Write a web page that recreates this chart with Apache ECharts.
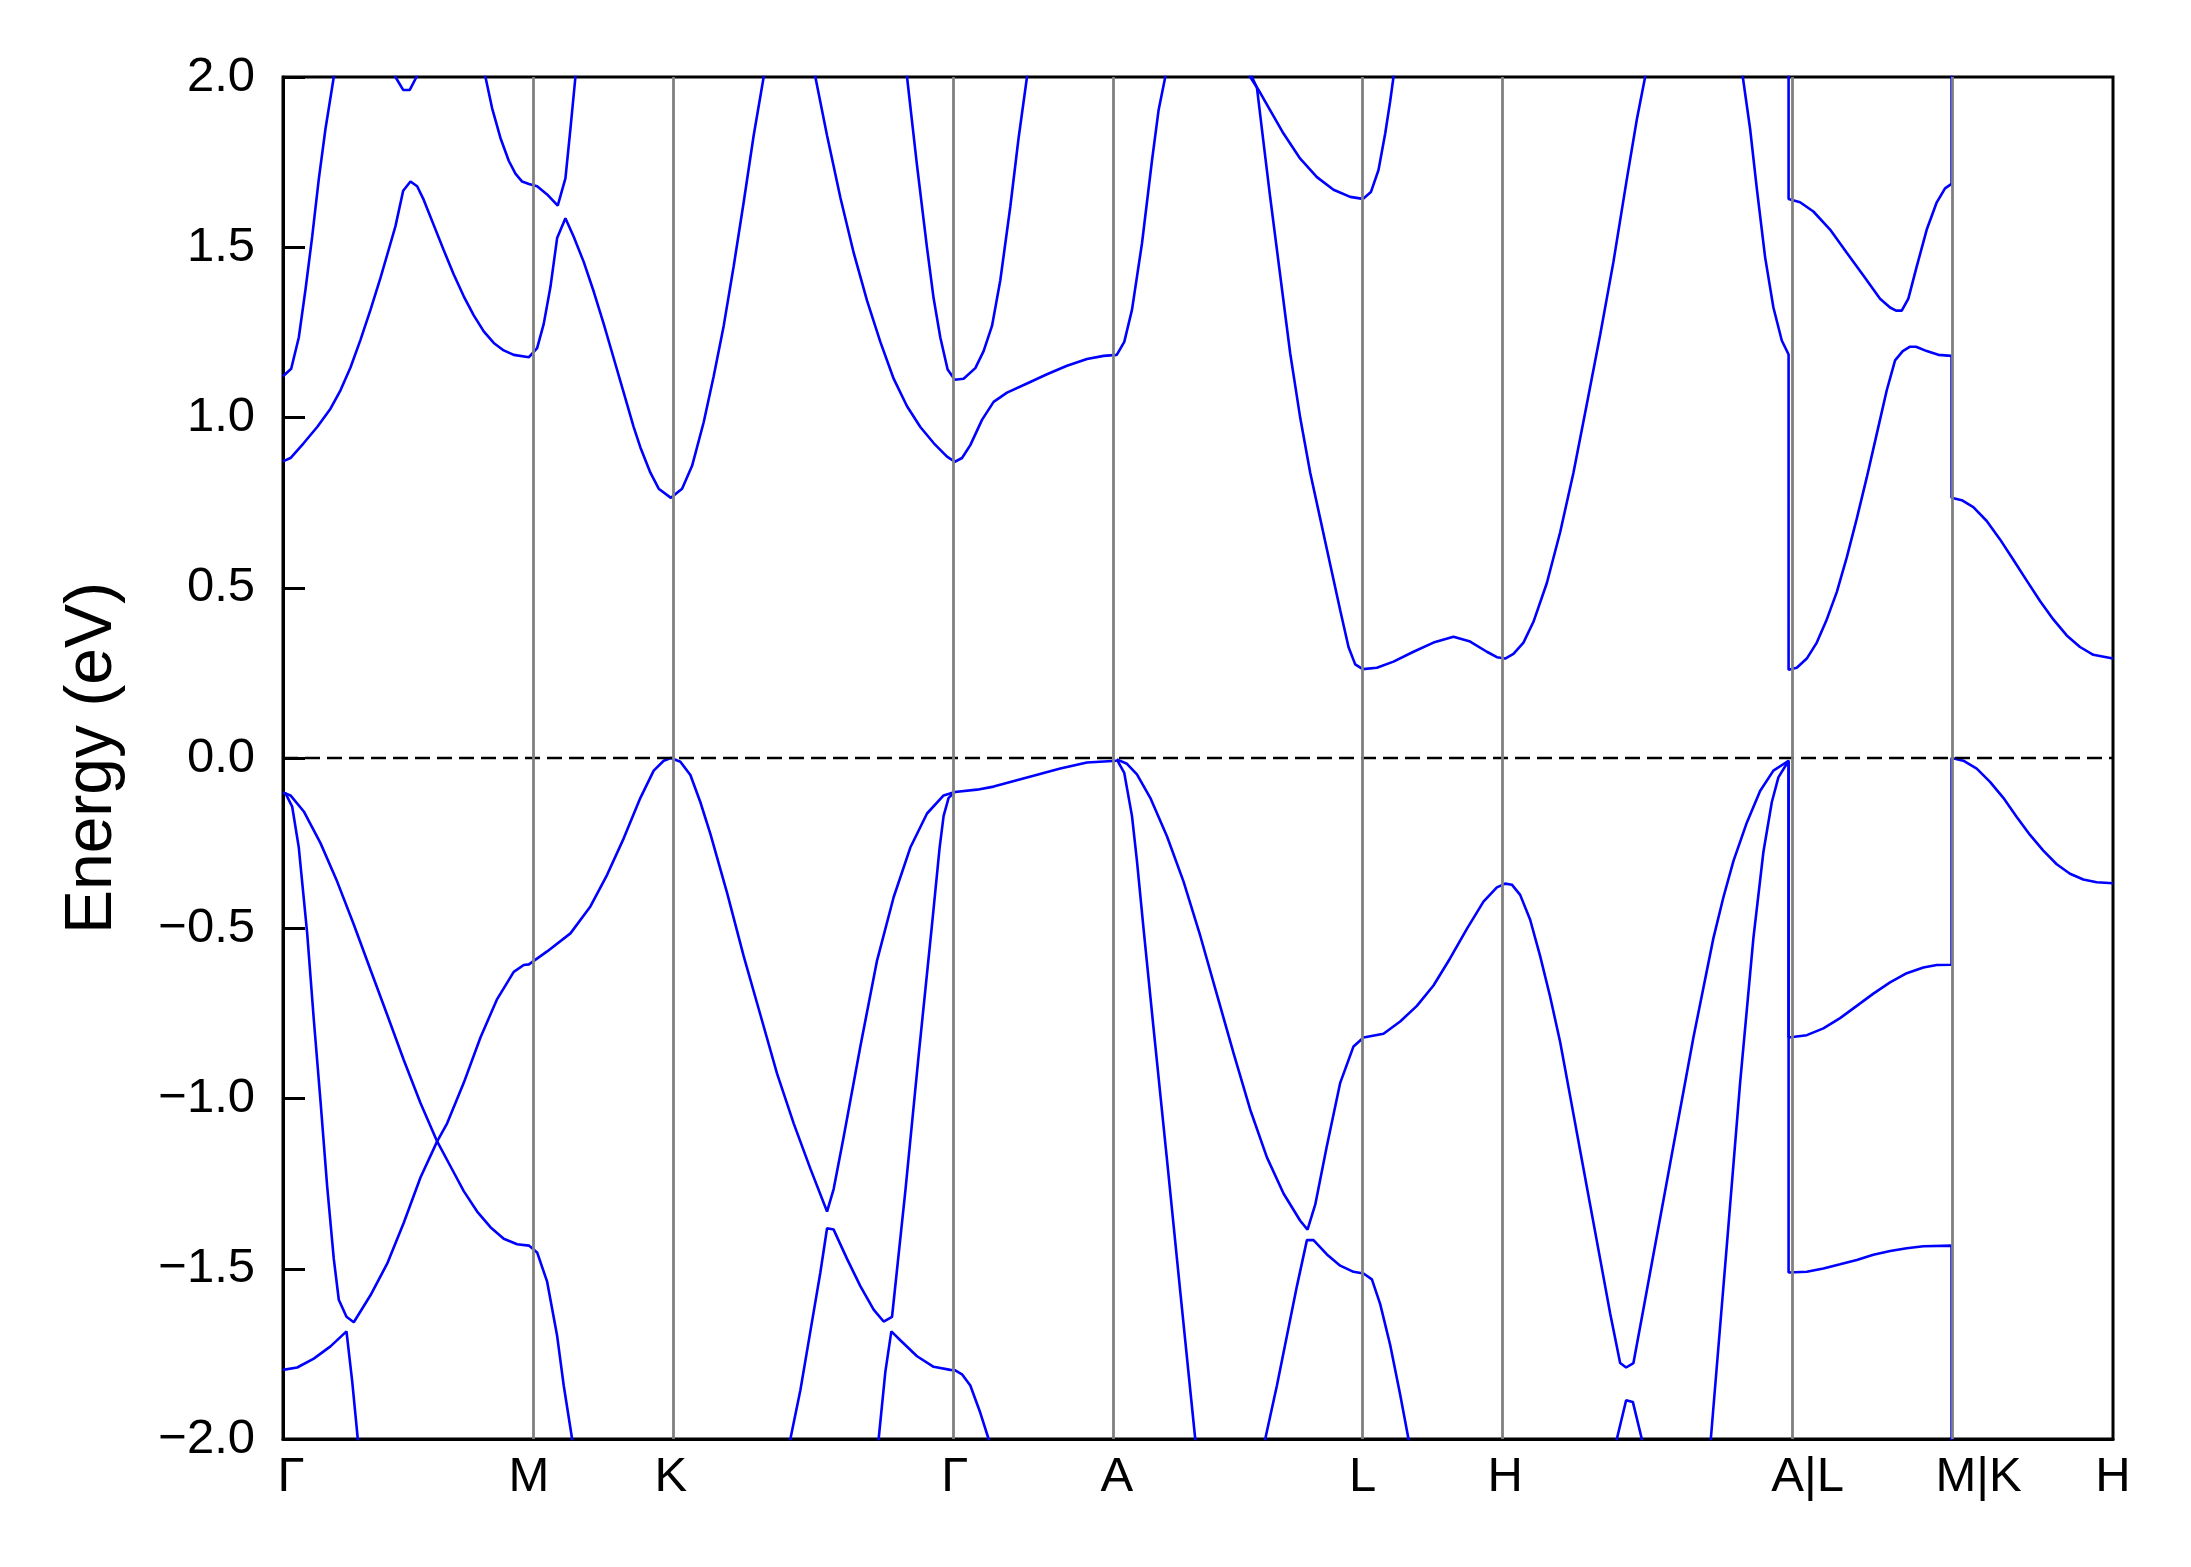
<!DOCTYPE html>
<html>
<head>
<meta charset="utf-8">
<script src="https://cdn.jsdelivr.net/npm/echarts@6/dist/echarts.min.js"></script>
<style>html,body{margin:0;padding:0;background:#fff;}#c{width:2191px;height:1567px;}</style>
</head>
<body>
<div id="c"></div>
<script>
// High-symmetry points along the k-path (path distance, arb. units)
const kTicks = [0, 0.246, 0.388, 0.672, 0.834, 1.080, 1.2225, 1.506, 1.669, 1.8305];
const kLabels = ['Γ', 'M', 'K', 'Γ', 'A', 'L', 'H', 'A|L', 'M|K', 'H'];
const yTicks = [-2, -1.5, -1, -0.5, 0, 0.5, 1, 1.5, 2];
const fermiLevel = [[0, 0], [1.8305, 0]];

// Bands: [k, E (eV)]
const c_gm1 = [[0,1.121],[0.0082,1.143],[0.0158,1.235],[0.0225,1.376],[0.0292,1.531],[0.0358,1.700],[0.0425,1.848],[0.0508,2.0],[0.054,2.08]];
const c_gmk = [[0,0.871],[0.0075,0.881],[0.0208,0.925],[0.0342,0.972],[0.0475,1.026],[0.0575,1.080],[0.0675,1.147],[0.0775,1.228],[0.0875,1.316],[0.0975,1.410],[0.1075,1.511],[0.1125,1.562],[0.1202,1.666],[0.1275,1.693],[0.1342,1.679],[0.1408,1.639],[0.1508,1.565],[0.1608,1.491],[0.1708,1.420],[0.1808,1.356],[0.1908,1.300],[0.2008,1.253],[0.2108,1.219],[0.2208,1.197],[0.2308,1.184],[0.246,1.177],[0.2542,1.204],[0.2608,1.275],[0.2675,1.383],[0.2742,1.527],[0.2825,1.585],[0.2908,1.531],[0.3008,1.457],[0.3108,1.370],[0.3208,1.275],[0.3308,1.174],[0.3408,1.073],[0.3508,0.972],[0.3575,0.912],[0.3675,0.838],[0.3758,0.791],[0.388,0.764],[0.3992,0.791],[0.4092,0.858],[0.4208,0.986],[0.4308,1.121],[0.4408,1.269],[0.4508,1.444],[0.4608,1.632],[0.4708,1.828],[0.4808,2.0],[0.484,2.07]];
const c_dip = [[0.108,2.06],[0.1125,2.0],[0.1202,1.962],[0.1268,1.962],[0.1335,2.0],[0.138,2.06]];
const c_m = [[0.199,2.07],[0.2025,2.0],[0.2092,1.908],[0.2175,1.821],[0.2258,1.754],[0.2325,1.716],[0.2392,1.693],[0.246,1.686],[0.2542,1.679],[0.2642,1.655],[0.2748,1.622],[0.2825,1.702],[0.2875,1.848],[0.2925,2.0],[0.294,2.05]];
const c_kga = [[0.529,2.07],[0.5325,2.0],[0.5442,1.828],[0.5575,1.646],[0.5708,1.484],[0.5842,1.343],[0.5975,1.222],[0.6108,1.114],[0.6242,1.033],[0.6375,0.972],[0.6508,0.925],[0.6642,0.885],[0.672,0.870],[0.6792,0.881],[0.6875,0.919],[0.6992,0.993],[0.7108,1.046],[0.7242,1.073],[0.7442,1.100],[0.7642,1.127],[0.7842,1.152],[0.8042,1.172],[0.8208,1.181],[0.834,1.184],[0.8415,1.222],[0.8492,1.316],[0.8592,1.511],[0.8692,1.754],[0.8758,1.902],[0.8825,2.0],[0.885,2.05]];
const c_g2 = [[0.622,2.05],[0.6242,2.0],[0.6342,1.740],[0.6442,1.498],[0.6508,1.350],[0.6575,1.235],[0.6648,1.141],[0.672,1.111],[0.6808,1.114],[0.6925,1.145],[0.7008,1.195],[0.7092,1.269],[0.7175,1.403],[0.7275,1.619],[0.7358,1.821],[0.7442,2.0],[0.746,2.05]];
const c_lh = [[0.967,2.05],[0.9692,2.0],[0.9742,1.969],[0.9808,1.807],[0.9875,1.646],[0.9975,1.417],[1.0075,1.188],[1.0175,0.999],[1.0275,0.838],[1.0375,0.703],[1.0475,0.568],[1.0575,0.434],[1.0658,0.326],[1.0725,0.275],[1.080,0.261],[1.0942,0.265],[1.1108,0.283],[1.1308,0.312],[1.1508,0.339],[1.1708,0.356],[1.1875,0.342],[1.2042,0.312],[1.2142,0.296],[1.2225,0.292],[1.2308,0.306],[1.2408,0.339],[1.2508,0.400],[1.2642,0.514],[1.2775,0.663],[1.2908,0.838],[1.3042,1.040],[1.3175,1.242],[1.3308,1.457],[1.3442,1.700],[1.3542,1.875],[1.3625,2.0],[1.365,2.05]];
const c_lup = [[0.965,2.02],[0.9675,2.0],[0.9758,1.962],[0.9875,1.902],[1.0008,1.834],[1.0175,1.760],[1.0342,1.706],[1.0508,1.669],[1.0675,1.648],[1.0802,1.642],[1.0882,1.662],[1.0958,1.727],[1.1025,1.834],[1.1075,1.929],[1.1108,2.0],[1.112,2.05]];
const c_alk = [[1.458,2.05],[1.4602,2.0],[1.4675,1.848],[1.4742,1.673],[1.4825,1.471],[1.4908,1.323],[1.4992,1.226],[1.506,1.185],[1.506,0.259],[1.5142,0.265],[1.5242,0.292],[1.5342,0.339],[1.5442,0.407],[1.5542,0.487],[1.5642,0.589],[1.5742,0.703],[1.5842,0.824],[1.5942,0.952],[1.6042,1.080],[1.6125,1.168],[1.6202,1.195],[1.6275,1.208],[1.6335,1.208],[1.6442,1.195],[1.6558,1.184],[1.669,1.181],[1.669,0.764],[1.6792,0.757],[1.6908,0.737],[1.7042,0.696],[1.7175,0.642],[1.7308,0.582],[1.7442,0.521],[1.7575,0.461],[1.7708,0.407],[1.7842,0.360],[1.7975,0.326],[1.8108,0.303],[1.8305,0.292]];
const c_lmk = [[1.506,2.3],[1.506,1.642],[1.5175,1.632],[1.5308,1.605],[1.5475,1.552],[1.5642,1.484],[1.5808,1.417],[1.5975,1.349],[1.6075,1.323],[1.6135,1.314],[1.6192,1.314],[1.6258,1.349],[1.6342,1.444],[1.6442,1.552],[1.6542,1.632],[1.6625,1.673],[1.669,1.686],[1.669,2.3]];

const v_top = [[0,-0.101],[0.0025,-0.104],[0.0092,-0.143],[0.0158,-0.263],[0.0242,-0.515],[0.0308,-0.768],[0.0375,-1.007],[0.0442,-1.259],[0.0508,-1.471],[0.0558,-1.591],[0.0635,-1.641],[0.0708,-1.657],[0.0875,-1.578],[0.1042,-1.485],[0.1208,-1.365],[0.1375,-1.232],[0.1542,-1.126],[0.1642,-1.073],[0.1808,-0.954],[0.1975,-0.821],[0.2142,-0.708],[0.2308,-0.628],[0.2408,-0.608],[0.246,-0.606],[0.2642,-0.568],[0.2875,-0.515],[0.3075,-0.436],[0.3242,-0.343],[0.3408,-0.236],[0.3575,-0.117],[0.3708,-0.037],[0.3808,-0.008],[0.388,0],[0.3975,-0.011],[0.4075,-0.050],[0.4175,-0.130],[0.4275,-0.223],[0.4442,-0.396],[0.4608,-0.582],[0.4775,-0.754],[0.4942,-0.927],[0.5108,-1.073],[0.5275,-1.206],[0.5442,-1.332],[0.5508,-1.266],[0.5608,-1.113],[0.5775,-0.847],[0.5942,-0.595],[0.6108,-0.409],[0.6275,-0.263],[0.6442,-0.163],[0.6608,-0.110],[0.672,-0.100],[0.6942,-0.093],[0.7108,-0.084],[0.7442,-0.057],[0.7775,-0.031],[0.8042,-0.013],[0.834,-0.008]];
const v_gm = [[0,-0.101],[0.0075,-0.110],[0.0208,-0.157],[0.0375,-0.250],[0.0542,-0.363],[0.0708,-0.489],[0.0875,-0.622],[0.1042,-0.754],[0.1208,-0.887],[0.1375,-1.013],[0.1542,-1.126],[0.1675,-1.199],[0.1808,-1.272],[0.1942,-1.332],[0.2075,-1.378],[0.2208,-1.412],[0.2342,-1.428],[0.246,-1.432],[0.2542,-1.452],[0.2642,-1.538],[0.2742,-1.697],[0.2808,-1.843],[0.2892,-2.0],[0.291,-2.05]];
const v_g18 = [[0,-1.797],[0.0142,-1.790],[0.0308,-1.764],[0.0475,-1.728],[0.0635,-1.684],[0.0692,-1.830],[0.0748,-2.0],[0.076,-2.05]];
const v_kg1 = [[0.5065,-2.03],[0.5075,-2.0],[0.5175,-1.857],[0.5275,-1.684],[0.5375,-1.511],[0.5442,-1.381],[0.5508,-1.385],[0.5642,-1.471],[0.5775,-1.551],[0.5908,-1.620],[0.6008,-1.655],[0.6092,-1.641],[0.6225,-1.272],[0.6358,-0.874],[0.6492,-0.489],[0.6568,-0.263],[0.6608,-0.170],[0.6658,-0.117],[0.672,-0.100]];
const v_kg2 = [[0.5955,-2.03],[0.5958,-2.0],[0.6025,-1.803],[0.6085,-1.684],[0.6175,-1.710],[0.6342,-1.757],[0.6508,-1.788],[0.6675,-1.797],[0.672,-1.798],[0.6792,-1.810],[0.6875,-1.843],[0.6975,-1.923],[0.7058,-2.0],[0.707,-2.03]];
const v_a1 = [[0.834,-0.004],[0.8415,-0.044],[0.8492,-0.170],[0.8542,-0.303],[0.8608,-0.502],[0.8708,-0.794],[0.8842,-1.179],[0.8975,-1.567],[0.9125,-2.0],[0.913,-2.02]];
const v_a2 = [[0.834,-0.004],[0.8442,-0.017],[0.8542,-0.048],[0.8675,-0.117],[0.8842,-0.230],[0.9008,-0.363],[0.9175,-0.522],[0.9342,-0.695],[0.9508,-0.867],[0.9675,-1.033],[0.9842,-1.173],[1.0008,-1.279],[1.0175,-1.359],[1.0248,-1.385],[1.0325,-1.312],[1.0442,-1.139],[1.0575,-0.954],[1.0708,-0.847],[1.0808,-0.821],[1.1008,-0.810],[1.1175,-0.774],[1.1342,-0.728],[1.1508,-0.668],[1.1675,-0.588],[1.1842,-0.502],[1.2008,-0.422],[1.2142,-0.380],[1.2225,-0.369],[1.2292,-0.372],[1.2375,-0.402],[1.2475,-0.475],[1.2575,-0.582],[1.2675,-0.701],[1.2775,-0.834],[1.2875,-0.993],[1.2975,-1.153],[1.3075,-1.312],[1.3175,-1.471],[1.3275,-1.631],[1.3375,-1.777],[1.3435,-1.790],[1.3508,-1.777],[1.3608,-1.618],[1.3708,-1.458],[1.3808,-1.299],[1.3908,-1.139],[1.4008,-0.980],[1.4108,-0.821],[1.4208,-0.675],[1.4308,-0.529],[1.4408,-0.409],[1.4508,-0.303],[1.4642,-0.190],[1.4775,-0.097],[1.4908,-0.037],[1.506,-0.008],[1.506,-0.821],[1.5242,-0.814],[1.5408,-0.794],[1.5575,-0.764],[1.5742,-0.728],[1.5908,-0.692],[1.6075,-0.659],[1.6242,-0.632],[1.6408,-0.615],[1.6542,-0.608],[1.669,-0.607],[1.669,0],[1.6808,-0.008],[1.6942,-0.031],[1.7075,-0.070],[1.7208,-0.117],[1.7342,-0.173],[1.7475,-0.226],[1.7608,-0.272],[1.7742,-0.312],[1.7875,-0.340],[1.8008,-0.357],[1.8142,-0.365],[1.8305,-0.368]];
const v_l15 = [[0.9822,-2.03],[0.9825,-2.0],[0.9942,-1.843],[1.0042,-1.697],[1.0142,-1.551],[1.0242,-1.416],[1.0308,-1.416],[1.0442,-1.458],[1.0575,-1.491],[1.0708,-1.509],[1.0808,-1.514],[1.0892,-1.531],[1.0975,-1.604],[1.1075,-1.724],[1.1175,-1.870],[1.1258,-2.0],[1.127,-2.03]];
const v_hpk = [[1.3335,-2.02],[1.3342,-2.0],[1.3435,-1.886],[1.3502,-1.891],[1.3592,-2.0],[1.36,-2.02]];
const v_ha = [[1.428,-2.02],[1.4282,-2.0],[1.4442,-1.432],[1.4575,-0.954],[1.4708,-0.529],[1.4808,-0.276],[1.4892,-0.130],[1.4958,-0.057],[1.506,-0.008],[1.506,-1.511],[1.5242,-1.509],[1.5408,-1.499],[1.5575,-1.487],[1.5742,-1.474],[1.5908,-1.459],[1.6075,-1.448],[1.6242,-1.440],[1.6408,-1.434],[1.669,-1.432],[1.669,-2.3]];

const bands = [c_gm1, c_gmk, c_dip, c_m, c_kga, c_g2, c_lh, c_lup, c_alk, c_lmk,
               v_top, v_gm, v_g18, v_kg1, v_kg2, v_a1, v_a2, v_l15, v_hpk, v_ha];

const FONT = "'Liberation Sans', Arial, Helvetica, sans-serif";
const chart = echarts.init(document.getElementById('c'), null, {renderer: 'canvas'});

function fmtY(v) {
  const s = Math.abs(v).toFixed(1);
  return (v < -1e-9 ? '\u2212' : '') + s;
}
function labelFor(v) {
  let best = 0;
  for (let i = 0; i < kTicks.length; i++) {
    if (Math.abs(kTicks[i] - v) < Math.abs(kTicks[best] - v)) best = i;
  }
  const t = kLabels[best];
  if (best === 0) return '{g0|' + t + '}';
  if (t === 'A|L') return '{al|' + t + '}';
  if (t === 'M|K') return '{mk|' + t + '}';
  return '{n|' + t + '}';
}
const tx = {fontSize: 49, fontFamily: FONT, color: '#000'};

const series = [];
series.push({
  type: 'line', data: [], z: 1, silent: true, animation: false,
  markLine: {
    symbol: ['none', 'none'], silent: true, animation: false, label: {show: false},
    lineStyle: {color: '#808080', width: 2.8, type: 'solid'},
    data: kTicks.slice(1, -1).map(v => ({xAxis: v}))
  }
});
bands.forEach(d => series.push({
  type: 'line', data: d, showSymbol: false, symbol: 'none', smooth: false,
  lineStyle: {color: '#0000ff', width: 2.6}, z: 3, silent: true, animation: false, clip: true
}));
series.push({
  type: 'line', data: fermiLevel, showSymbol: false, symbol: 'none', z: 4, silent: true, animation: false,
  lineStyle: {color: '#000000', width: 2.6, type: [15, 7]}
});

chart.setOption({
  backgroundColor: '#ffffff',
  animation: false,
  grid: {left: 283, right: 78, top: 77, bottom: 128, show: true, borderColor: '#000', borderWidth: 3, containLabel: false},
  xAxis: {
    type: 'value', min: 0, max: kTicks[kTicks.length - 1],
    axisLine: {show: true, onZero: false, lineStyle: {color: '#000', width: 3}},
    axisTick: {show: false},
    splitLine: {show: false},
    axisLabel: {
      customValues: kTicks, margin: 14, formatter: labelFor,
      fontSize: 49, fontFamily: FONT, color: '#000',
      rich: {
        n: tx,
        g0: Object.assign({padding: [0, 0, 0, 16]}, tx),
        al: Object.assign({padding: [0, 0, 0, 38]}, tx),
        mk: Object.assign({padding: [0, 0, 0, 54]}, tx)
      }
    }
  },
  yAxis: {
    type: 'value', min: -2, max: 2, interval: 0.5,
    name: 'Energy (eV)', nameLocation: 'middle', nameGap: 157,
    nameTextStyle: {fontSize: 66, fontFamily: FONT, color: '#000'},
    axisLine: {show: true, onZero: false, lineStyle: {color: '#000', width: 3}},
    axisTick: {show: true, inside: true, length: 22, lineStyle: {color: '#000', width: 3}},
    splitLine: {show: false},
    axisLabel: {margin: 28, fontSize: 49, fontFamily: FONT, color: '#000', formatter: fmtY}
  },
  series: series
});
</script>
</body>
</html>
